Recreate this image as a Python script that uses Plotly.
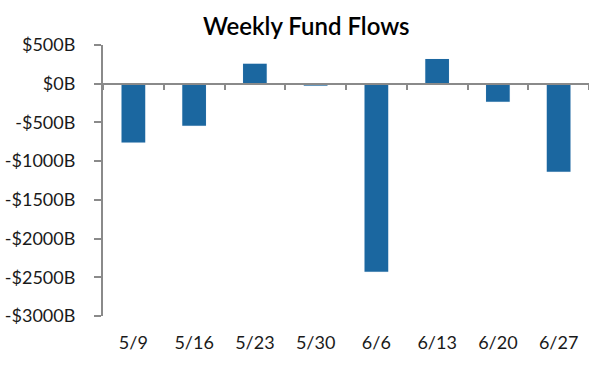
import plotly.graph_objects as go

weeks = ["5/9", "5/16", "5/23", "5/30", "6/6", "6/13", "6/20", "6/27"]
flows = [-760, -543, 258, -25, -2430, 319, -233, -1137]

y_ticks = [500, 0, -500, -1000, -1500, -2000, -2500, -3000]
y_labels = ["$500B", "$0B", "-$500B", "-$1000B", "-$1500B", "-$2000B", "-$2500B", "-$3000B"]

y_min, y_max = -3000, 500
bar_color = "#1b67a0"
axis_gray = "#8a8a8a"
font_family = "Lato, 'Noto Sans', sans-serif"

fig = go.Figure()
# labels axis (bottom)
fig.add_trace(go.Bar(x=weeks, y=flows, marker_color="rgba(0,0,0,0)", hoverinfo="skip",
                     showlegend=False, xaxis="x", yaxis="y"))
# visible bars on the zero-line axis
fig.add_trace(go.Bar(x=weeks, y=flows, marker_color=bar_color, marker_line_width=0,
                     showlegend=False, xaxis="x2", yaxis="y"))

zero_pos = (0 - y_min) / (y_max - y_min)

fig.update_layout(
    width=589, height=375,
    margin=dict(l=103, r=0, t=45, b=59, autoexpand=False),
    paper_bgcolor="white", plot_bgcolor="white",
    bargap=0.61,
    font=dict(family=font_family, size=18, color="#1a1a1a"),
    title=dict(text="Weekly Fund Flows", x=0.52, xanchor="center", y=0.93, yanchor="middle",
               font=dict(family=font_family, size=24, color="#000000", weight=600)),
    xaxis=dict(showline=False, ticks="", showgrid=False, zeroline=False, automargin=False,
               tickfont=dict(size=18), ticklabelstandoff=14),
    xaxis2=dict(overlaying="x", matches="x", anchor="free", position=zero_pos, side="bottom",
                showline=True, linecolor=axis_gray, linewidth=2, ticks="outside",
                tickson="boundaries", ticklen=5, tickwidth=2, tickcolor=axis_gray,
                showticklabels=False, showgrid=False, zeroline=False, automargin=False),
    yaxis=dict(range=[y_min, y_max], tickvals=y_ticks, ticktext=y_labels,
               showline=True, linecolor=axis_gray, linewidth=2, ticks="outside",
               ticklen=7, tickwidth=2, tickcolor=axis_gray, showgrid=False, zeroline=False,
               automargin=False, tickfont=dict(size=18), ticklabelstandoff=15),
)

fig.write_html("out.html", config={"displayModeBar": False},
               post_script="document.body.style.margin='0px';")
